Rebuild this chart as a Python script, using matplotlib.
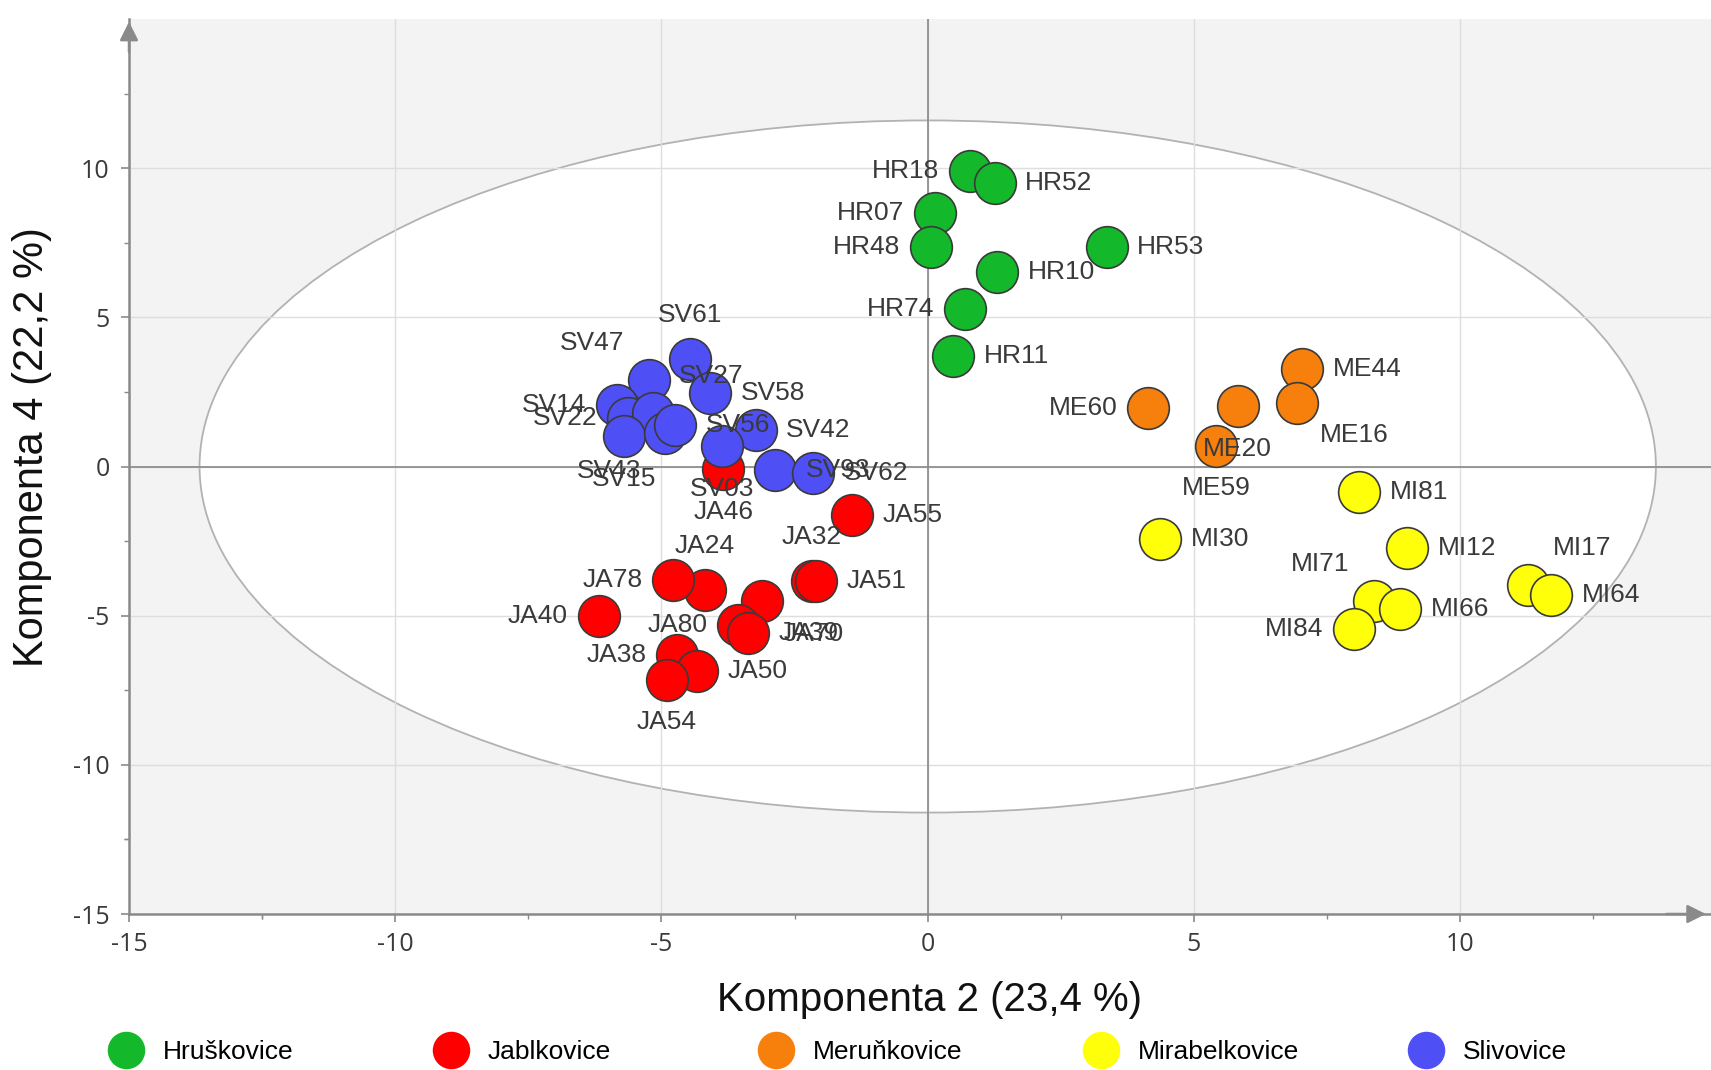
import matplotlib
matplotlib.use("Agg")
import matplotlib.pyplot as plt
from matplotlib.patches import Ellipse
from matplotlib.lines import Line2D

plt.rcParams["axes.unicode_minus"] = False

# ---- data -------------------------------------------------------------
categories = ["Hruškovice", "Jablkovice", "Meruňkovice", "Mirabelkovice", "Slivovice"]
colors = ["#13b82b", "#ff0000", "#f77f0c", "#ffff0a", "#4f4ff6"]

hr_names = ["HR18", "HR52", "HR07", "HR48", "HR53", "HR10", "HR74", "HR11"]
hr_x = [0.79, 1.26, 0.14, 0.06, 3.36, 1.31, 0.70, 0.48]
hr_y = [9.91, 9.50, 8.51, 7.37, 7.37, 6.52, 5.27, 3.70]

ja_names = ["JA55", "JA32", "JA51", "JA46", "JA24", "JA78", "JA40",
            "JA70", "JA80", "JA39", "JA38", "JA50", "JA54"]
ja_x = [-1.43, -2.18, -2.09, -3.84, -4.19, -4.78, -6.18,
        -3.12, -3.56, -3.37, -4.71, -4.34, -4.90]
ja_y = [-1.61, -3.85, -3.85, -0.10, -4.13, -3.79, -5.00,
        -4.52, -5.30, -5.58, -6.31, -6.87, -7.15]

me_names = ["ME44", "ME16", "ME60", "ME20", "ME59"]
me_x = [7.03, 6.94, 4.14, 5.82, 5.42]
me_y = [3.28, 2.14, 1.97, 2.02, 0.70]

mi_names = ["MI81", "MI30", "MI12", "MI17", "MI64", "MI71", "MI66", "MI84"]
mi_x = [8.10, 4.37, 9.00, 11.27, 11.71, 8.39, 8.87, 8.01]
mi_y = [-0.86, -2.43, -2.73, -3.96, -4.30, -4.50, -4.78, -5.45]

sv_names = ["SV61", "SV47", "SV58", "SV14", "SV22", "SV27", "SV15",
            "SV43", "SV56", "SV42", "SV03", "SV93", "SV62"]
sv_x = [-4.46, -5.23, -4.09, -5.84, -5.62, -5.15, -5.71,
        -4.93, -4.75, -3.23, -3.87, -2.87, -2.15]
sv_y = [3.59, 2.89, 2.47, 2.05, 1.63, 1.80, 1.01,
        1.13, 1.38, 1.24, 0.68, -0.12, -0.21]

groups = [
    (hr_names, hr_x, hr_y),
    (ja_names, ja_x, ja_y),
    (me_names, me_x, me_y),
    (mi_names, mi_x, mi_y),
    (sv_names, sv_x, sv_y),
]

x_label = "Komponenta 2 (23,4 %)"
y_label = "Komponenta 4 (22,2 %)"
major_ticks = [-15, -10, -5, 0, 5, 10]

# where each sample label sits relative to its point
label_side = {
    "HR18": "l", "HR52": "r", "HR07": "l", "HR48": "l", "HR53": "r",
    "HR10": "r", "HR74": "l", "HR11": "r",
    "JA55": "r", "JA32": "a", "JA51": "r", "JA46": "b", "JA24": "a",
    "JA78": "l", "JA40": "l", "JA70": "lr", "JA80": "l", "JA39": "r",
    "JA38": "l", "JA50": "r", "JA54": "b",
    "ME44": "r", "ME16": "lr", "ME60": "l", "ME20": "b", "ME59": "b",
    "MI81": "r", "MI30": "r", "MI12": "r", "MI17": "ur", "MI64": "r",
    "MI71": "ul", "MI66": "r", "MI84": "l",
    "SV61": "a", "SV47": "ul", "SV58": "r", "SV14": "l", "SV22": "l",
    "SV27": "ur", "SV15": "b", "SV43": "ll", "SV56": "r", "SV42": "r",
    "SV03": "b", "SV93": "r", "SV62": "r",
}
side_style = {
    "r": ((22, 0), "left", "center"),
    "l": ((-22, 0), "right", "center"),
    "a": ((0, 23), "center", "bottom"),
    "b": ((0, -22), "center", "top"),
    "ur": ((18, 18), "left", "bottom"),
    "ul": ((-18, 18), "right", "bottom"),
    "lr": ((16, -15), "left", "top"),
    "ll": ((-17, -19), "right", "top"),
}

# ---- figure -----------------------------------------------------------
W, H, DPI = 1711, 1070, 100
fig = plt.figure(figsize=(W / DPI, H / DPI), dpi=DPI, facecolor="white")
ax = fig.add_axes([129 / W, 1 - 914 / H, (W - 129) / W, (914 - 19) / H])
ax.set_facecolor("#f3f3f3")
ax.set_xlim(-15, 14.71)
ax.set_ylim(-15, 15)

# confidence ellipse
ax.add_patch(Ellipse((0, 0), 27.35, 23.2, facecolor="white",
                     edgecolor="#b2b2b2", linewidth=1.3, zorder=0.2))

ax.set_axisbelow(True)
ax.grid(True, color="#dedede", linewidth=1.0)
ax.axhline(0, color="#8f8f8f", linewidth=1.3, zorder=0.8)
ax.axvline(0, color="#8f8f8f", linewidth=1.3, zorder=0.8)

for i, (names, xs, ys) in enumerate(groups):
    ax.scatter(xs, ys, s=30 ** 2, c=colors[i], edgecolors="#3a3a3a",
               linewidths=1.2, zorder=3)
for names, xs, ys in groups:
    for n, x, y in zip(names, xs, ys):
        off, ha, va = side_style[label_side[n]]
        ax.annotate(n, (x, y), xytext=off, textcoords="offset points",
                    ha=ha, va=va, fontsize=19, color="#3a3a3a",
                    family="Liberation Sans", zorder=4)

# axes, ticks
for s in ("top", "right"):
    ax.spines[s].set_visible(False)
for s in ("left", "bottom"):
    ax.spines[s].set_color("#8a8a8a")
    ax.spines[s].set_linewidth(1.8)
    ax.spines[s].set_zorder(5)

ax.set_xticks(major_ticks)
ax.set_yticks(major_ticks)
ax.set_xticks([v + 2.5 for v in major_ticks] + [-12.5], minor=True)
ax.set_yticks([v + 2.5 for v in major_ticks] + [-12.5], minor=True)
ax.tick_params(which="major", direction="out", length=6, width=1.2,
               color="#8a8a8a", labelsize=18, labelcolor="#3a3a3a")
ax.tick_params(which="minor", direction="out", length=3.5, width=1.0,
               color="#8a8a8a")
ax.tick_params(axis="y", pad=8)
ax.tick_params(axis="x", pad=7)
for lab in ax.get_xticklabels() + ax.get_yticklabels():
    lab.set_family("Open Sans")

# arrow heads on the axes
arrow = dict(arrowstyle="-|>", color="#8a8a8a", lw=1.8, mutation_scale=28)
ax.annotate("", xy=(0, 1.0), xytext=(0, 0.96), xycoords="axes fraction",
            arrowprops=arrow, annotation_clip=False, zorder=6)
ax.annotate("", xy=(0.9985, 0), xytext=(0.97, 0), xycoords="axes fraction",
            arrowprops=arrow, annotation_clip=False, zorder=6)

ax.set_xlabel(x_label, fontsize=29, family="Liberation Sans", color="#111111")
ax.xaxis.label.set_va("center")
ax.xaxis.set_label_coords(0.506, -0.096)
ax.set_ylabel(y_label, fontsize=30, family="Liberation Sans", color="#111111")
ax.yaxis.label.set_va("center")
ax.yaxis.set_label_coords(-0.0613, 0.522)

# legend: one evenly spaced entry per category
for i, cat in enumerate(categories):
    h = Line2D([], [], linestyle="none", marker="o", markersize=27,
               markerfacecolor=colors[i], markeredgewidth=0)
    fig.legend(handles=[h], labels=[cat], loc="center left",
               bbox_to_anchor=((125.5 + 325 * i) / W, 1 - 1052 / H),
               frameon=False, handlelength=0,
               handletextpad=1.40, borderpad=0, borderaxespad=0,
               prop={"family": "Liberation Sans", "size": 19})

fig.savefig("out.png", dpi=DPI, facecolor="white")
